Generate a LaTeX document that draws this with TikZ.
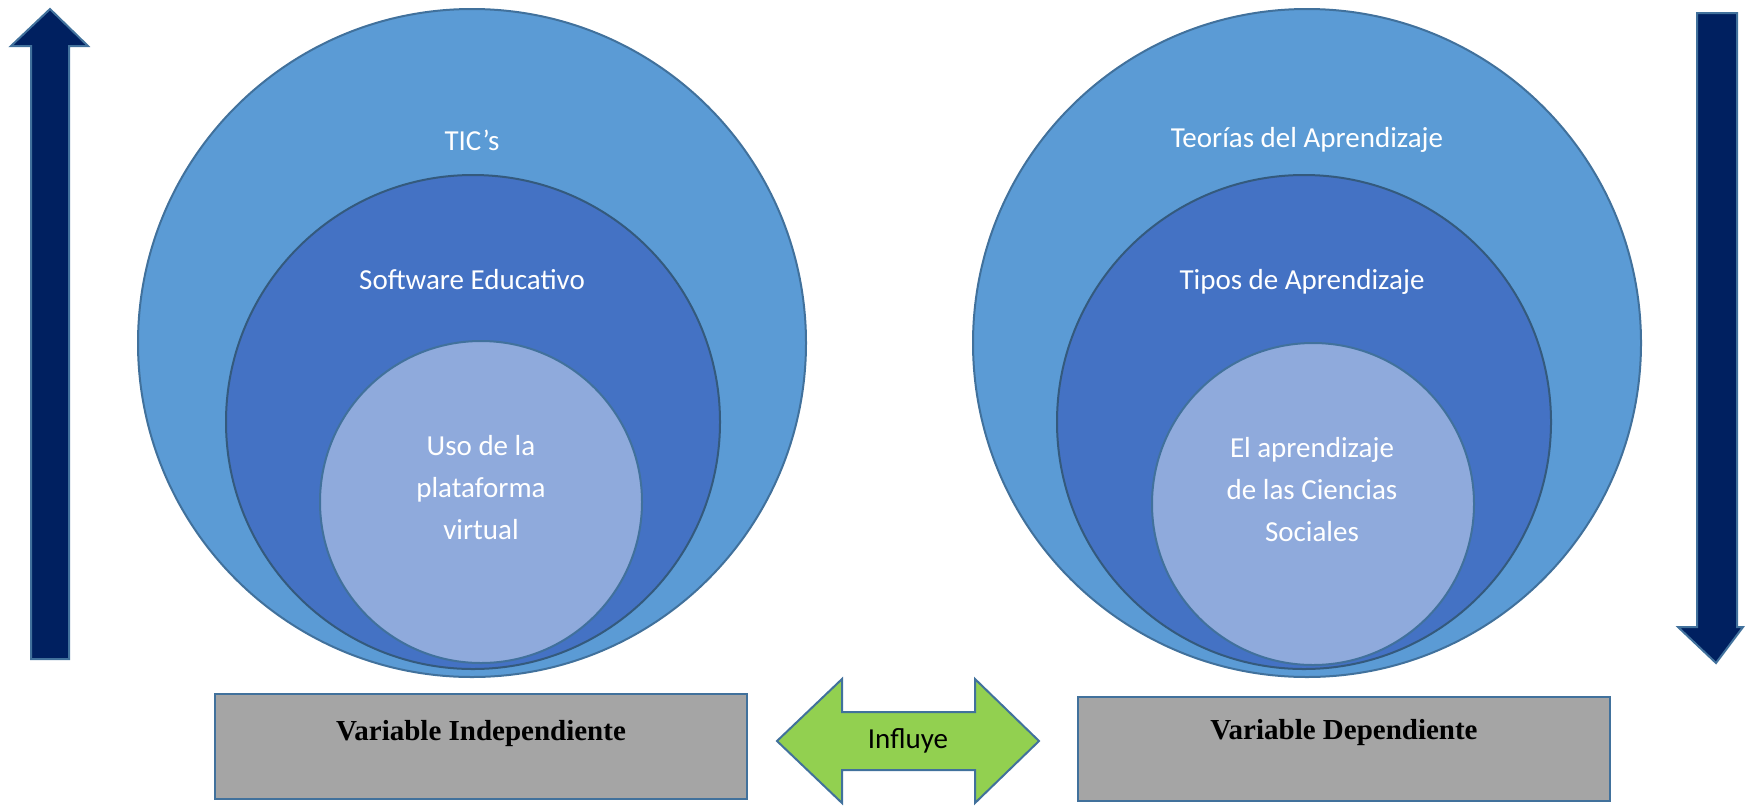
\documentclass[tikz,border=0pt]{standalone}
\usepackage{fontspec}
\setmainfont{Carlito}
\newfontfamily\boxfont{Liberation Serif}
\definecolor{outerblue}{HTML}{5B9BD5}
\definecolor{midblue}{HTML}{4472C4}
\definecolor{innerblue}{HTML}{8FAADC}
\definecolor{edgeblue}{HTML}{41719C}
\definecolor{navy}{HTML}{002060}
\definecolor{boxgray}{HTML}{A5A5A5}
\definecolor{leafgreen}{HTML}{92D050}
\tikzset{
  ring/.style={circle, inner sep=0pt, draw=edgeblue, line width=2pt},
  ringtext/.style={text=white, font=\fontsize{29}{42}\selectfont, align=center, inner sep=0pt},
  varbox/.style={draw=edgeblue, line width=2.5pt, fill=boxgray},
  vartext/.style={font=\boxfont\bfseries\fontsize{29}{35}\selectfont, inner sep=0pt},
  bigarrow/.style={draw=edgeblue, line width=2pt, fill=navy, line join=miter},
}
\begin{document}
\begin{tikzpicture}[x=1pt,y=-1pt]
\useasboundingbox (0,0) rectangle (1745,807);
% vertical arrows
\draw[bigarrow] (31,659) -- (31,46) -- (11,46) -- (50,9) -- (88,46) -- (69,46) -- (69,659) -- cycle;
\draw[bigarrow] (1697,13) -- (1697,627) -- (1678,627) -- (1716,663) -- (1743,627) -- (1737,627) -- (1737,13) -- cycle;
% left circles
\node[ring, fill=outerblue, minimum size=668pt] (tic) at (472,343) {};
\node[ring, fill=midblue, draw=edgeblue!80!black, minimum size=494pt] (soft) at (473,422) {};
\node[ring, fill=innerblue, minimum size=322pt] (uso) at (481,502) {};
\node[ringtext] (tictext) at (472,140) {TIC’s};
\node[ringtext] (softtext) at (472,280) {Software Educativo};
\node[ringtext] (usotext) at (481,488) {Uso de la\\plataforma\\virtual};
% right circles
\node[ring, fill=outerblue, minimum size=668pt] (teo) at (1307,343) {};
\node[ring, fill=midblue, draw=edgeblue!80!black, minimum size=494pt] (tipos) at (1304,422) {};
\node[ring, fill=innerblue, minimum size=322pt] (apr) at (1313,504) {};
\node[ringtext] (teotext) at (1307,140) {Teorías del Aprendizaje};
\node[ringtext] (tipostext) at (1302,282) {Tipos de Aprendizaje};
\node[ringtext] (aprtext) at (1312,490) {El aprendizaje\\de las Ciencias\\Sociales};
% boxes
\draw[varbox] (215,694) rectangle (747,799);
\node[vartext] (indep) at (481,734) {Variable Independiente};
\draw[varbox] (1078,697) rectangle (1610,801);
\node[vartext] (dep) at (1344,733) {Variable Dependiente};
% influye double arrow
\draw[draw=edgeblue, line width=2pt, fill=leafgreen, line join=miter]
  (777,741) -- (842,679) -- (842,712) -- (975,712) -- (975,679) -- (1039,741)
  -- (975,803) -- (975,770) -- (842,770) -- (842,803) -- cycle;
\node[font=\fontsize{29}{35}\selectfont, inner sep=0pt] (inf) at (908,741) {Influye};
\end{tikzpicture}
\end{document}
